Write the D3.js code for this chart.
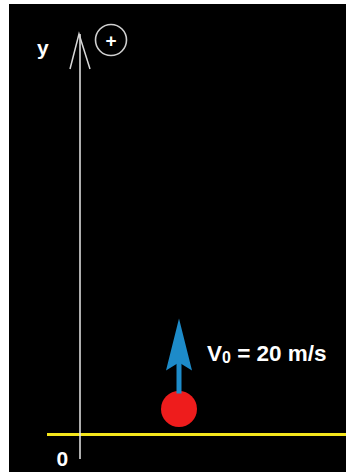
<!DOCTYPE html>
<html>
<head>
<meta charset="utf-8">
<script src="https://cdn.jsdelivr.net/npm/d3@7"></script>
<style>
html,body{margin:0;padding:0;background:#fff;}
svg{display:block;}
</style>
</head>
<body>
<script>
// ---- data ----
const axisLabels = ["y", "0"];
const positiveSign = ["+"];
const ballHeights = [0];          // ball height above ground (m)
const initialVelocity = [20];     // m/s
const velocityLabel = ["V", "0", " = 20 m/s"];

const W = 346, H = 472;
const svg = d3.select("body").append("svg").attr("width", W).attr("height", H);

svg.append("rect").attr("x", 9).attr("y", 4).attr("width", W - 9).attr("height", H - 4).attr("fill", "#000");

// scales
const yScale = d3.scaleLinear().domain([0, 100]).range([434.5, 34]);
const xAxisPos = 80;
const ballX = 179;
const ballR = 18;
const vScale = d3.scaleLinear().domain([0, 20]).range([0, 73]);

// ground line (yellow)
svg.append("line")
  .attr("x1", 47).attr("x2", W)
  .attr("y1", yScale(0)).attr("y2", yScale(0))
  .attr("stroke", "#f5e61c").attr("stroke-width", 3);

// vertical axis
svg.append("line")
  .attr("x1", xAxisPos).attr("x2", xAxisPos)
  .attr("y1", 459).attr("y2", yScale(100))
  .attr("stroke", "#e8e8e8").attr("stroke-width", 1.5);
svg.append("path")
  .attr("d", `M${xAxisPos - 10},69 L${xAxisPos - 1},${yScale(100)} L${xAxisPos + 10},69`)
  .attr("fill", "none").attr("stroke", "#d8d8d8").attr("stroke-width", 1.5);

// axis labels
svg.append("text").text(axisLabels[0])
  .attr("x", 37).attr("y", 55)
  .attr("fill", "#fff").attr("font-family", "Liberation Sans, Arial, sans-serif")
  .attr("font-weight", "bold").attr("font-size", 21);
svg.append("text").text(axisLabels[1])
  .attr("x", 56.5).attr("y", 466)
  .attr("fill", "#fff").attr("font-family", "Liberation Sans, Arial, sans-serif")
  .attr("font-weight", "bold").attr("font-size", 21);

// plus sign circle
const pc = {x: 111, y: 40};
svg.append("circle").attr("cx", pc.x).attr("cy", pc.y).attr("r", 15.5)
  .attr("fill", "none").attr("stroke", "#d0d0d0").attr("stroke-width", 1.6);
svg.append("text").text(positiveSign[0])
  .attr("x", pc.x).attr("y", pc.y + 6.5).attr("text-anchor", "middle")
  .attr("fill", "#fff").attr("font-family", "Liberation Sans, Arial, sans-serif")
  .attr("font-weight", "bold").attr("font-size", 19);

// ball
svg.selectAll("circle.ball").data(ballHeights).join("circle")
  .attr("class", "ball")
  .attr("cx", ballX).attr("cy", d => yScale(d) - ballR - 7.5)
  .attr("r", ballR).attr("fill", "#ee1c1c");

// velocity arrow
const arrowBase = yScale(ballHeights[0]) - 2 * ballR - 7;
const tipY = arrowBase - vScale(initialVelocity[0]);
const blue = "#1d8bc9";
svg.append("line")
  .attr("x1", ballX).attr("x2", ballX)
  .attr("y1", arrowBase + 2).attr("y2", tipY + 40)
  .attr("stroke", blue).attr("stroke-width", 5);
svg.append("path")
  .attr("d", `M${ballX},${tipY} L${ballX + 13},${tipY + 52} L${ballX},${tipY + 44} L${ballX - 13},${tipY + 52} Z`)
  .attr("fill", blue);

// velocity label
const vt = svg.append("text")
  .attr("x", 207).attr("y", 361)
  .attr("fill", "#fff").attr("font-family", "Liberation Sans, Arial, sans-serif")
  .attr("font-weight", "bold").attr("font-size", 22.5);
vt.append("tspan").text(velocityLabel[0]);
vt.append("tspan").text(velocityLabel[1]).attr("font-size", 16).attr("dy", 2);
vt.append("tspan").text(velocityLabel[2]).attr("dy", -2).attr("xml:space", "preserve");
</script>
</body>
</html>
